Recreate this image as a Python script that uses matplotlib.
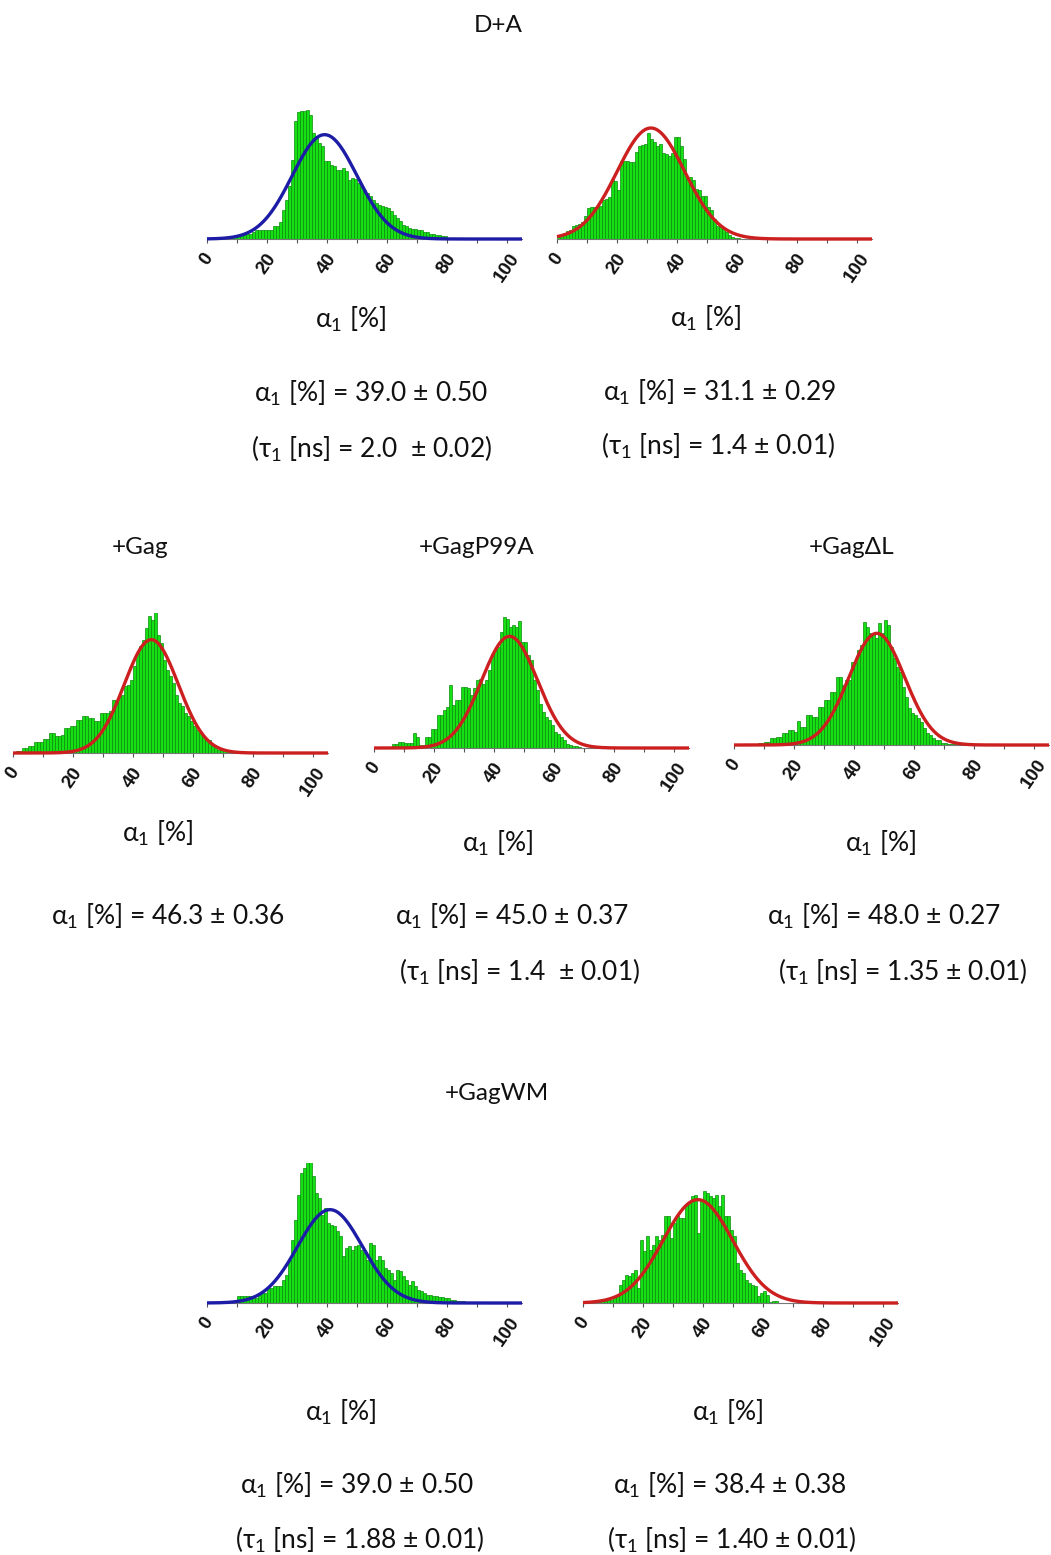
import numpy as np
import matplotlib
matplotlib.use("Agg")
import matplotlib.pyplot as plt

plt.rcParams["mathtext.fontset"] = "custom"
plt.rcParams["mathtext.rm"] = "Lato"
plt.rcParams["mathtext.it"] = "Lato:italic"
plt.rcParams["mathtext.bf"] = "Lato:bold"

# ---------------- data ----------------
# histogram counts per 1 %-wide bin of alpha_1, starting at 0 %
da_left = [3, 4, 5, 4, 6, 6, 5, 7, 8, 10, 12, 13, 13, 14, 15, 22, 26, 28, 28, 27,
           26, 26, 38, 38, 50, 88, 118, 158, 238, 353, 380, 383, 383, 388, 373, 318,
           308, 288, 278, 233, 233, 223, 218, 208, 208, 213, 203, 178, 183, 180, 168,
           156, 148, 138, 128, 118, 108, 103, 100, 96, 93, 83, 73, 63, 53, 43, 38, 33,
           30, 30, 26, 26, 20, 20, 16, 16, 13, 13, 8, 8, 4, 4, 2, 1]
da_right = [5, 10, 18, 23, 28, 40, 43, 45, 50, 68, 92, 96, 96, 98, 100, 118, 120, 125,
            178, 175, 148, 233, 235, 233, 230, 232, 260, 280, 282, 285, 318, 300, 290,
            280, 285, 258, 255, 250, 258, 306, 306, 280, 240, 183, 185, 178, 150, 148,
            130, 128, 95, 88, 60, 40, 38, 30, 20, 13, 6, 3, 2, 1]
gag = [3, 5, 5, 15, 15, 20, 20, 32, 32, 32, 42, 42, 60, 60, 50, 50, 55, 75, 75, 80,
       80, 100, 100, 110, 110, 105, 105, 95, 95, 120, 120, 120, 125, 160, 160, 170, 175,
       200, 205, 220, 260, 300, 320, 340, 375, 410, 400, 425, 355, 330, 280, 250, 230,
       210, 175, 150, 140, 120, 110, 95, 80, 70, 60, 50, 40, 40, 20, 20, 10, 10, 5, 5, 2]
gag_p99a = [2, 2, 2, 2, 2, 3, 13, 13, 18, 18, 15, 15, 15, 45, 33, 8, 8, 33, 33, 58, 58,
            98, 98, 113, 123, 188, 128, 143, 143, 183, 183, 181, 158, 181, 203, 208, 193,
            203, 233, 283, 293, 303, 348, 393, 388, 363, 368, 363, 381, 318, 318, 278,
            263, 203, 173, 133, 108, 93, 83, 68, 48, 43, 33, 23, 13, 10, 5, 5, 2]
gag_dl = [2, 2, 2, 2, 3, 3, 3, 3, 7, 7, 10, 10, 20, 20, 25, 25, 35, 35, 45, 45, 40, 73,
          55, 55, 90, 90, 85, 85, 115, 115, 135, 135, 160, 160, 203, 203, 180, 195, 195,
          250, 245, 285, 300, 370, 355, 335, 335, 320, 365, 335, 375, 360, 295, 260, 235,
          220, 175, 145, 110, 95, 90, 80, 70, 50, 35, 30, 20, 15, 15, 7, 7, 3, 3, 3]
gagwm_left = [2, 2, 2, 2, 2, 5, 5, 5, 5, 5, 20, 20, 20, 20, 20, 15, 15, 30, 30, 30, 45,
              45, 50, 50, 50, 70, 85, 130, 190, 250, 325, 390, 405, 440, 435, 380, 330,
              315, 265, 285, 240, 235, 230, 215, 200, 140, 165, 170, 160, 170, 175, 160,
              150, 130, 180, 175, 130, 140, 130, 105, 100, 90, 70, 100, 95, 80, 70, 55,
              65, 50, 40, 35, 30, 25, 25, 20, 20, 18, 18, 15, 15, 10, 10, 5, 5, 5, 2]
gagwm_right = [2, 2, 2, 2, 2, 2, 5, 5, 10, 10, 20, 20, 55, 70, 85, 80, 90, 100, 45, 188,
               155, 200, 160, 175, 200, 190, 205, 260, 260, 195, 240, 260, 255, 255, 295,
               300, 320, 325, 210, 310, 335, 330, 320, 315, 325, 290, 325, 260, 260, 220,
               200, 120, 100, 90, 70, 60, 55, 50, 20, 30, 35, 25, 2, 5, 5]

# Gaussian fit parameters: (centre, width, amplitude)
fit_da_left = (39.2, 10.8, 313)
fit_da_right = (31.3, 11.3, 333)
fit_gag = (46.1, 9.0, 340)
fit_gag_p99a = (45.2, 9.3, 335)
fit_gag_dl = (47.6, 9.3, 335)
fit_gagwm_left = (41.0, 10.8, 280)
fit_gagwm_right = (38.3, 11.6, 310)

tick_values = [0, 20, 40, 60, 80, 100]
A1 = r"α$\mathregular{_1}$"
T1 = r"τ$\mathregular{_1}$"
axis_label = A1 + " [%]"

group_titles = ["D+A", "+Gag", "+GagP99A", "+GagΔL", "+GagWM"]
stats_da_left = [A1 + " [%] = 39.0 ± 0.50", "(" + T1 + " [ns] = 2.0  ± 0.02)"]
stats_da_right = [A1 + " [%] = 31.1 ± 0.29", "(" + T1 + " [ns] = 1.4 ± 0.01)"]
stats_gag = [A1 + " [%] = 46.3 ± 0.36"]
stats_gag_p99a = [A1 + " [%] = 45.0 ± 0.37", "(" + T1 + " [ns] = 1.4  ± 0.01)"]
stats_gag_dl = [A1 + " [%] = 48.0 ± 0.27", "(" + T1 + " [ns] = 1.35 ± 0.01)"]
stats_gagwm_left = [A1 + " [%] = 39.0 ± 0.50", "(" + T1 + " [ns] = 1.88 ± 0.01)"]
stats_gagwm_right = [A1 + " [%] = 38.4 ± 0.38", "(" + T1 + " [ns] = 1.40 ± 0.01)"]

# ---------------- layout / style ----------------
W, H = 1051, 1555
FAM = ["Lato", "DejaVu Sans"]
BLUE = "#1c1ca6"
RED = "#cc1f1f"
FILL = "#14e014"
EDGE = "#0c8a0c"

fig = plt.figure(figsize=(W / 100, H / 100), dpi=100)
fig.patch.set_facecolor("white")


def ftext(x, y, s, size=19):
    fig.text(x / W, 1 - y / H, s, ha="center", va="center", fontsize=size,
             family=FAM, color="#111111")


def panel(left, base, counts, fit, color):
    ax = fig.add_axes([left / W, 1 - base / H, 315 / W, 140 / H])
    edges = np.arange(len(counts))
    ax.bar(edges, counts, width=1, align="edge", color=FILL, edgecolor=EDGE,
           linewidth=0.5, zorder=2)
    mu, sd, amp = fit
    xs = np.linspace(0, 105, 600)
    ax.plot(xs, amp * np.exp(-(xs - mu) ** 2 / (2 * sd ** 2)), color=color, lw=2.4,
            zorder=3, clip_on=False, solid_capstyle="butt")
    ax.set_xlim(0, 105)
    ax.set_ylim(0, 420)
    for s in ("left", "right", "top"):
        ax.spines[s].set_visible(False)
    ax.spines["bottom"].set_color("#777777")
    ax.spines["bottom"].set_linewidth(0.8)
    ax.set_yticks([])
    ax.set_xticks(tick_values)
    ax.set_xticks(np.arange(10, 101, 20), minor=True)
    ax.tick_params(axis="x", which="both", direction="out", length=3, width=0.8,
                   color="#555555", pad=5)
    ax.set_xticklabels([str(v) for v in tick_values], rotation=55,
                       fontsize=13.5, fontweight="bold", family="Liberation Sans",
                       ha="center", va="top", color="#111111")
    ax.patch.set_alpha(0)
    return ax


# row 1 : D+A
panel(207, 239, da_left, fit_da_left, BLUE)
panel(557, 239, da_right, fit_da_right, RED)
ftext(498, 25, group_titles[0], 17.5)
ftext(350, 319, axis_label)
ftext(705, 318, axis_label)
ftext(371, 393, stats_da_left[0])
ftext(372, 449, stats_da_left[1])
ftext(720, 392, stats_da_right[0])
ftext(718, 446, stats_da_right[1])

# row 2 : +Gag, +GagP99A, +GagΔL
panel(13, 753, gag, fit_gag, RED)
panel(374, 748, gag_p99a, fit_gag_p99a, RED)
panel(734, 745, gag_dl, fit_gag_dl, RED)
ftext(140, 548, group_titles[1], 17.5)
ftext(477, 548, group_titles[2], 17.5)
ftext(852, 548, group_titles[3], 17.5)
ftext(157, 833, axis_label)
ftext(497, 843, axis_label)
ftext(880, 843, axis_label)
ftext(168, 916, stats_gag[0])
ftext(512, 916, stats_gag_p99a[0])
ftext(520, 972, stats_gag_p99a[1])
ftext(884, 916, stats_gag_dl[0])
ftext(903, 972, stats_gag_dl[1])

# row 3 : +GagWM
panel(207, 1303, gagwm_left, fit_gagwm_left, BLUE)
panel(583, 1303, gagwm_right, fit_gagwm_right, RED)
ftext(497, 1093, group_titles[4], 17.5)
ftext(340, 1412, axis_label)
ftext(727, 1412, axis_label)
ftext(357, 1485, stats_gagwm_left[0])
ftext(360, 1540, stats_gagwm_left[1])
ftext(730, 1485, stats_gagwm_right[0])
ftext(732, 1540, stats_gagwm_right[1])

fig.savefig("out.png", dpi=100, facecolor="white")
